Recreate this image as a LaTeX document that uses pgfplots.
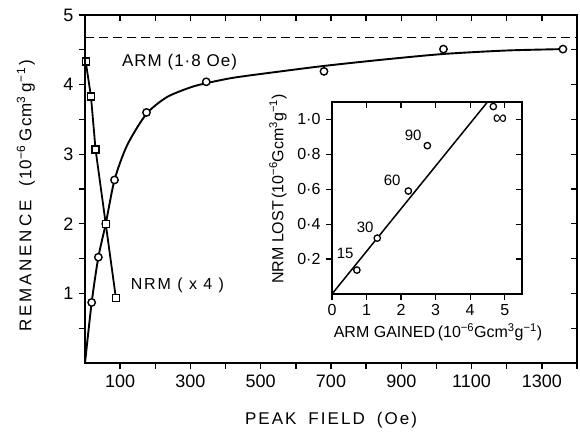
\documentclass[border=0pt]{standalone}
\usepackage{pgfplots}
\pgfplotsset{compat=1.18}
\usepackage{fontspec}
\setmainfont{Liberation Sans}
\newfontfamily\spaced[LetterSpace=12]{Liberation Sans}
\newfontfamily\spacedb[LetterSpace=6]{Liberation Sans}

\pgfplotsset{
  commonstyle/.style={
    scale only axis,
    axis line style={line width=1.6pt},
    tick style={line width=1.3pt, black},
    major tick length=6pt, minor tick length=6pt,
    /pgf/number format/assume math mode=true,
  },
}

\begin{document}
\begin{tikzpicture}
\useasboundingbox (-85pt,-68pt) rectangle (495pt,363pt);
% ---------------- main axis (left/bottom ticks outside)
\begin{axis}[commonstyle,
  at={(0pt,0pt)}, anchor=south west,
  width=492pt, height=348pt,
  xmin=0, xmax=1400, ymin=0, ymax=5,
  xtick={100,300,500,700,900,1100,1300},
  xticklabels={100,300,500,700,900,1100,1300},
  minor xtick={200,400,600,800,1000,1200,1400},
  ytick={1,2,3,4,5}, yticklabels={1,2,3,4,5},
  minor ytick={0.5,1.5,2.5,3.5,4.5},
  tick align=outside, xtick pos=left, ytick pos=left,
  ticklabel style={font=\fontsize{18}{18}\selectfont},
  xticklabel style={yshift=-2pt},
  yticklabel style={xshift=-2pt},
  xlabel={\spaced\fontsize{17}{17}\selectfont PEAK\hspace{12pt}FIELD\hspace{12pt}(Oe)},
  xlabel style={at={(axis description cs:0.5,-0.164)}, anchor=center},
  ylabel={\spacedb\fontsize{17}{17}\selectfont R\,E\,M\,A\,N\,E\,N\,C\,E\hspace{14pt}(10\textsuperscript{−6}\hspace{4pt}Gcm\textsuperscript{3}\hspace{4pt}g\textsuperscript{−1}\hspace{2pt})},
  ylabel style={at={(axis description cs:-0.12,0.48)}, anchor=center},
  clip=false,
]
% saturation ARM (dashed)
\addplot[black, line width=1.2pt, dash pattern=on 9pt off 5pt] coordinates {(0,4.68) (1400,4.68)};
% ARM smooth curve
\addplot[black, line width=1.9pt, smooth, tension=0.45] coordinates {
 (0,0) (19,0.87) (38,1.52) (59,2.0) (84,2.63) (120,3.13) (175,3.58) (233,3.82)
 (300,3.96) (345,4.02) (424,4.1) (557,4.19) (683,4.27) (850,4.36) (1020,4.44) (1200,4.49) (1360,4.51)};
% ARM measured points
\addplot[only marks, mark=*, mark size=3.7pt, mark options={fill=white, draw=black, line width=1.4pt}] coordinates {
 (19,0.87) (38,1.52) (59,2.0) (84,2.63) (175,3.6) (345,4.04) (680,4.19) (1020,4.51) (1360,4.51)};
% NRM (x4)
\addplot[black, line width=1.8pt, mark=square*, mark size=3.5pt, mark options={fill=white, draw=black, line width=1.4pt}] coordinates {
 (2,4.33) (17,3.83) (30,3.07) (59,2.0) (88,0.93)};
\node[font=\spacedb\fontsize{17}{17}\selectfont] at (axis cs:269,4.32) {ARM (1·8 Oe)};
\node[font=\spaced\fontsize{16}{16}\selectfont] at (axis cs:263,1.12) {NRM ( x 4 )};
\end{axis}
% ---------------- main axis overlay (top/right ticks inside)
\begin{axis}[commonstyle,
  at={(0pt,0pt)}, anchor=south west,
  width=492pt, height=348pt,
  xmin=0, xmax=1400, ymin=0, ymax=5,
  xtick={100,200,...,1300}, xticklabels={},
  ytick={0.5,1,...,4.5}, yticklabels={},
  tick align=inside, xtick pos=right, ytick pos=right,
]
\addplot[draw=none] coordinates {(0,0)};
\end{axis}
% ---------------- inset
\begin{axis}[commonstyle,
  at={(247pt,69pt)}, anchor=south west,
  width=190pt, height=192pt,
  xmin=0, xmax=5.5, ymin=0, ymax=1.1,
  xtick={0,1,2,3,4,5}, xticklabels={0,1,2,3,4,5},
  ytick={0.2,0.4,0.6,0.8,1.0}, yticklabels={0·2,0·4,0·6,0·8,1·0},
  tick align=outside, xtick pos=left, ytick pos=left,
  axis line style={line width=1.5pt},
  axis background/.style={fill=white},
  ticklabel style={font=\fontsize{16}{16}\selectfont},
  xticklabel style={yshift=-1pt},
  yticklabel style={xshift=-2pt},
  xlabel={\fontsize{16}{16}\selectfont ARM GAINED\,(10\textsuperscript{−6}Gcm\textsuperscript{3}g\textsuperscript{−1})},
  xlabel style={at={(axis description cs:0.558,-0.198)}, anchor=center},
  ylabel={\fontsize{16}{16}\selectfont NRM LOST\,(10\textsuperscript{−6}Gcm\textsuperscript{3}g\textsuperscript{−1})},
  ylabel style={at={(axis description cs:-0.284,0.547)}, anchor=center},
  clip=false,
]
\addplot[black, line width=1.5pt] coordinates {(0,0) (4.5,1.1)};
\addplot[only marks, mark=*, mark size=3.2pt, mark options={fill=white, draw=black, line width=1.3pt}] coordinates {
 (0.72,0.137) (1.31,0.32) (2.21,0.59) (2.76,0.85) (4.67,1.074)};
\node[font=\fontsize{15}{15}\selectfont] at (axis cs:0.38,0.234) {15};
\node[font=\fontsize{15}{15}\selectfont] at (axis cs:0.96,0.38) {30};
\node[font=\fontsize{15}{15}\selectfont] at (axis cs:1.74,0.65) {60};
\node[font=\fontsize{15}{15}\selectfont] at (axis cs:2.35,0.91) {90};
\node[font=\fontsize{20}{20}\selectfont] at (axis cs:4.86,1.0) {∞};
\end{axis}
% ---------------- inset overlay (top/right ticks inside)
\begin{axis}[commonstyle,
  at={(247pt,69pt)}, anchor=south west,
  width=190pt, height=192pt,
  xmin=0, xmax=5.5, ymin=0, ymax=1.1,
  axis line style={line width=1.5pt},
  xtick={1,2,3,4,5}, xticklabels={},
  ytick={0.2,0.4,0.6,0.8,1.0}, yticklabels={},
  tick align=inside, xtick pos=right, ytick pos=right,
]
\addplot[draw=none] coordinates {(0,0)};
\end{axis}
\end{tikzpicture}
\end{document}
